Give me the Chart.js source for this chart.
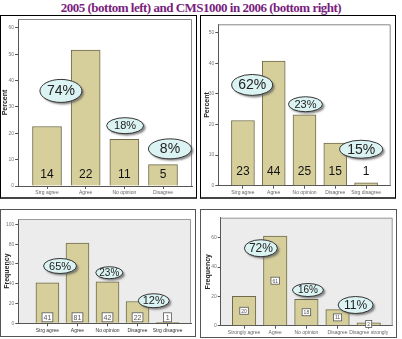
<!DOCTYPE html>
<html>
<head>
<meta charset="utf-8">
<script src="https://cdn.jsdelivr.net/npm/chart.js@4.4.0/dist/chart.umd.min.js"></script>
<style>
html, body { margin: 0; padding: 0; background: #fff; }
body { width: 402px; height: 339px; position: relative; overflow: hidden; }
#title { position: absolute; left: 0; top: 0; width: 402px; text-align: center; font: bold 13px 'Liberation Serif', serif; color: #7a1e7e; letter-spacing: -0.5px; white-space: nowrap; }
canvas { position: absolute; }
.box { position: absolute; box-sizing: border-box; pointer-events: none; }
</style>
</head>
<body>
<div id="title">2005 (bottom left) and CMS1000 in 2006 (bottom right)</div>
<canvas id="chartTL" width="197" height="183" style="left:0;top:15px"></canvas>
<canvas id="chartTR" width="196" height="183" style="left:200px;top:15px"></canvas>
<canvas id="chartBL" width="195" height="126" style="left:0;top:210px"></canvas>
<canvas id="chartBR" width="197" height="127" style="left:200px;top:210px"></canvas>
<div class="box" style="left:0;top:15px;width:197px;height:184px;border:1px solid #000;border-bottom:2px solid #444"></div>
<div class="box" style="left:200px;top:15px;width:196px;height:184px;border:1px solid #000;border-bottom:2px solid #444"></div>
<div class="box" style="left:0;top:209px;width:196px;height:128px;border:1.5px solid #555"></div>
<div class="box" style="left:200px;top:209px;width:197px;height:129px;border:1.5px solid #555"></div>
<script>
const catsShort4 = ['Strg agree', 'Agree', 'No opinion', 'Disagree'];
const catsShort5 = ['Strg agree', 'Agree', 'No opinion', 'Disagree', 'Strg disagree'];
const catsLong5 = ['Strongly agree', 'Agree', 'No opinion', 'Disagree', 'Disagree strongly'];

const percentTL = [22.6, 51.6, 17.7, 8.1];
const countsTL = ['14', '22', '11', '5'];
const percentTR = [21.3, 40.7, 23.1, 13.9, 0.9];
const countsTR = ['23', '44', '25', '15', '1'];
const freqBL = [41, 81, 42, 22, 1];
const freqBR = [20, 61, 18, 11, 2];

const calloutsTL = ['74%', '18%', '8%'];
const calloutsTR = ['62%', '23%', '15%'];
const calloutsBL = ['65%', '23%', '12%'];
const calloutsBR = ['72%', '16%', '11%'];

const FONT = "'Liberation Sans', Arial, sans-serif";

const panelPlugin = {
    id: 'panel',
    beforeDraw(chart, args, opts) {
        const a = chart.chartArea;
        if (opts.fill) {
            const ctx = chart.ctx;
            ctx.save();
            ctx.fillStyle = opts.fill;
            ctx.fillRect(a.left, a.top, a.width, a.height);
            ctx.restore();
        }
    },
    beforeDatasetsDraw(chart, args, opts) {
        const a = chart.chartArea;
        const ctx = chart.ctx;
        ctx.save();
        ctx.strokeStyle = opts.frame || '#888';
        ctx.lineWidth = 1;
        ctx.beginPath();
        ctx.moveTo(a.left, a.top + 0.5);
        ctx.lineTo(a.right - 0.5, a.top + 0.5);
        ctx.lineTo(a.right - 0.5, a.bottom);
        ctx.stroke();
        ctx.restore();
    },
    afterDatasetsDraw(chart, args, opts) {
        const ctx = chart.ctx;
        const meta = chart.getDatasetMeta(0);
        const labels = opts.counts || [];
        ctx.save();
        ctx.textAlign = 'center';
        ctx.textBaseline = 'middle';
        meta.data.forEach((bar, i) => {
            const text = labels[i];
            if (text === undefined) return;
            if (opts.countMode === 'plain') {
                ctx.font = '12px ' + FONT;
                ctx.fillStyle = '#111';
                ctx.fillText(text, bar.x, bar.base - opts.countOffset);
            } else {
                const fs = opts.countFont;
                ctx.font = fs + 'px ' + FONT;
                const w = Math.max(ctx.measureText(text).width + 3, fs + 1);
                const h = fs + 2;
                const cy = opts.countMode === 'bottom' ? bar.base - h / 2 - 1 : (bar.y + bar.base) / 2;
                ctx.fillStyle = '#fff';
                ctx.fillRect(bar.x - w / 2, cy - h / 2, w, h);
                ctx.strokeStyle = '#555';
                ctx.lineWidth = 0.8;
                ctx.strokeRect(bar.x - w / 2, cy - h / 2, w, h);
                ctx.fillStyle = '#555';
                ctx.fillText(text, bar.x, cy + 0.5);
            }
        });
        const xs = chart.scales.x;
        const ys = chart.scales.y;
        (opts.callouts || []).forEach(c => {
            const cx = xs.getPixelForValue(c.x);
            const cy = ys.getPixelForValue(c.y);
            ctx.save();
            ctx.shadowColor = 'rgba(90,90,90,0.7)';
            ctx.shadowOffsetX = 2;
            ctx.shadowOffsetY = 2;
            ctx.shadowBlur = 2;
            ctx.beginPath();
            ctx.ellipse(cx, cy, c.w / 2, c.h / 2, 0, 0, Math.PI * 2);
            ctx.fillStyle = '#dbf3f2';
            ctx.fill();
            ctx.restore();
            ctx.beginPath();
            ctx.ellipse(cx, cy, c.w / 2, c.h / 2, 0, 0, Math.PI * 2);
            ctx.strokeStyle = '#333';
            ctx.lineWidth = 1;
            ctx.stroke();
            ctx.fillStyle = '#222';
            ctx.font = c.size + 'px ' + FONT;
            ctx.fillText(c.text, cx, cy + 0.5);
        });
        ctx.restore();
    }
};

function PanelChart(canvas, options) {
    const cats = options.labels;
    new Chart(canvas, {
        type: 'bar',
        data: {
            datasets: [{
                data: options.data.map((v, i) => ({ x: i, y: v })),
                backgroundColor: '#d6cf9b',
                borderColor: '#6e6a4a',
                borderWidth: 1,
                barThickness: options.barThickness
            }]
        },
        options: {
            responsive: false,
            animation: false,
            layout: { padding: options.padding },
            plugins: {
                legend: { display: false },
                tooltip: { enabled: false },
                panel: {
                    fill: options.fill,
                    frame: options.frame,
                    counts: options.counts,
                    countMode: options.countMode,
                    countOffset: options.countOffset,
                    countFont: options.countFont,
                    callouts: options.callouts
                }
            },
            scales: {
                x: {
                    type: 'linear',
                    offset: false,
                    min: options.xRange[0],
                    max: options.xRange[1],
                    ticks: {
                        stepSize: 1,
                        includeBounds: false,
                        autoSkip: false,
                        maxRotation: 0,
                        padding: 1,
                        color: options.xTickColor || '#666',
                        font: { size: 5, family: FONT },
                        callback: v => (Number.isInteger(v) ? cats[v] : '')
                    },
                    grid: { offset: false, drawOnChartArea: false, tickLength: 3, color: '#555' },
                    border: { color: '#555' },
                    afterFit: s => { s.height = options.xHeight; }
                },
                y: {
                    min: 0,
                    max: options.yMax,
                    ticks: {
                        stepSize: options.yStep,
                        includeBounds: false,
                        padding: 1,
                        color: '#777',
                        font: { size: 5, family: FONT }
                    },
                    grid: { drawOnChartArea: false, tickLength: 3, color: '#555' },
                    border: { color: '#555' },
                    title: {
                        display: true,
                        text: options.yTitle,
                        color: '#222',
                        font: { size: 7, weight: 'bold', family: FONT },
                        padding: { top: options.titlePad, bottom: 0 }
                    },
                    afterFit: s => { s.width = options.yWidth; }
                }
            }
        },
        plugins: [panelPlugin]
    });
}

PanelChart(document.getElementById('chartTL'), {
    labels: catsShort4,
    data: percentTL,
    counts: countsTL,
    countMode: 'plain',
    countOffset: 11,
    barThickness: 29,
    xRange: [-0.75, 3.75],
    yMax: 63.4,
    yStep: 10,
    yTitle: 'Percent',
    titlePad: 1.3,
    yWidth: 18,
    xHeight: 12,
    padding: { left: 0, right: 5, top: 3, bottom: 0 },
    frame: '#888',
    callouts: [
        { text: calloutsTL[0], x: 0.36, y: 36.1, w: 42, h: 23, size: 14 },
        { text: calloutsTL[1], x: 2.02, y: 22.9, w: 37, h: 16, size: 11 },
        { text: calloutsTL[2], x: 3.18, y: 14.1, w: 43, h: 20, size: 14 }
    ]
});

PanelChart(document.getElementById('chartTR'), {
    labels: catsShort5,
    data: percentTR,
    counts: countsTR,
    countMode: 'plain',
    countOffset: 14,
    barThickness: 23,
    xRange: [-0.8, 4.8],
    yMax: 52.7,
    yStep: 10,
    yTitle: 'Percent',
    titlePad: 2.5,
    yWidth: 18,
    xHeight: 12,
    padding: { left: 0.3, right: 5.3, top: 9.3, bottom: 0.3 },
    frame: '#888',
    callouts: [
        { text: calloutsTR[0], x: 0.3, y: 32.9, w: 41, h: 21, size: 14 },
        { text: calloutsTR[1], x: 2.03, y: 26.6, w: 34, h: 15, size: 11 },
        { text: calloutsTR[2], x: 3.84, y: 11.9, w: 43, h: 18, size: 14 }
    ]
});

PanelChart(document.getElementById('chartBL'), {
    labels: catsShort5,
    data: freqBL,
    counts: freqBL.map(String),
    countMode: 'bottom',
    countFont: 7,
    barThickness: 23,
    xRange: [-0.97, 4.78],
    yMax: 105.4,
    yStep: 20,
    yTitle: 'Frequency',
    titlePad: 2.5,
    yWidth: 18,
    xHeight: 12,
    xTickColor: '#333',
    padding: { left: 0.3, right: 4, top: 9, bottom: 0.7 },
    fill: '#ececec',
    frame: '#999',
    callouts: [
        { text: calloutsBL[0], x: 0.42, y: 57.9, w: 33, h: 15, size: 11 },
        { text: calloutsBL[1], x: 2.06, y: 51.1, w: 27, h: 12, size: 10 },
        { text: calloutsBL[2], x: 3.54, y: 22.8, w: 31, h: 14, size: 11 }
    ]
});

PanelChart(document.getElementById('chartBR'), {
    labels: catsLong5,
    data: freqBR,
    counts: freqBR.map(String),
    countMode: 'middle',
    countFont: 5,
    barThickness: 23.5,
    xRange: [-0.75, 4.77],
    yMax: 73.6,
    yStep: 20,
    yTitle: 'Frequency',
    titlePad: 3,
    yWidth: 20,
    xHeight: 11,
    padding: { left: 0.7, right: 4.3, top: 7.7, bottom: 0.3 },
    fill: '#ececec',
    frame: '#999',
    callouts: [
        { text: calloutsBR[0], x: 0.54, y: 52.8, w: 33, h: 17, size: 12 },
        { text: calloutsBR[1], x: 2.05, y: 24.3, w: 31, h: 13, size: 10 },
        { text: calloutsBR[2], x: 3.58, y: 14.1, w: 35, h: 17, size: 12 }
    ]
});
</script>
</body>
</html>
